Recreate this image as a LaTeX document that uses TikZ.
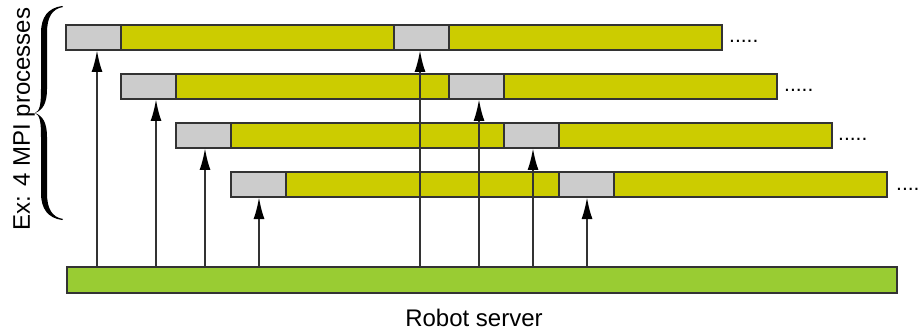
\documentclass[tikz,border=0pt]{standalone}
\usepackage{fontspec}
\setmainfont{Liberation Sans}
\usetikzlibrary{arrows.meta}
\definecolor{barY}{HTML}{CCCC00}
\definecolor{barG}{HTML}{CCCCCC}
\definecolor{baseG}{HTML}{99CC33}
\definecolor{edge}{HTML}{333333}
\begin{document}
\begin{tikzpicture}[x=1pt,y=-1pt,
  bar/.style={draw=edge,line width=2.6pt,inner sep=0pt,outer sep=0pt,anchor=north west,minimum height=25pt},
  ybar/.style={bar,fill=barY,minimum width=273pt},
  gbox/.style={bar,fill=barG,minimum width=55pt},
  arr/.style={draw=edge,line width=2.2pt,-{Latex[length=22pt,width=11pt,color=black]}},
  dotsl/.style={anchor=base west,inner sep=0pt,font=\fontsize{21}{22}\selectfont},
  lbl/.style={font=\fontsize{24}{28}\selectfont,inner sep=0pt},
  bracefill/.style={fill=black}]
\useasboundingbox (0,0) rectangle (920,331);
% base
\node[bar,fill=baseG,minimum width=830pt,minimum height=26pt] (base) at (67,267) {};
% rows
\foreach \r/\x/\y in {1/66/25,2/121/74,3/176/123,4/231/172}{
  \node[ybar] (ya\r) at (\x+55,\y) {};
  \node[ybar] (yb\r) at (\x+383,\y) {};
  \node[gbox] (ga\r) at (\x,\y) {};
  \node[gbox] (gb\r) at (\x+328,\y) {};
}
% dots
\node[dotsl] (d1) at (729,43) {.....};
\node[dotsl] (d2) at (784,92) {.....};
\node[dotsl] (d3) at (838,141) {.....};
\node[dotsl] (d4) at (896,190) {....};
% arrows
\foreach \n/\ax in {ga1/97,ga2/156,ga3/205,ga4/259,gb1/420,gb2/479,gb3/533,gb4/587}{
  \coordinate (c\n) at (\ax,0);
  \draw[arr] (base.north -| c\n) -- (\n.south -| c\n);
}
% labels
\node[lbl] (rs) at (474,318) {Robot server};
\node[lbl,rotate=90] (ex) at (24,119) {Ex: 4 MPI processes};
% brace
\foreach \s in {1,-1}{
  \begin{scope}[shift={(0,113)},yscale=\s]
    \fill[bracefill] (62,-107) .. controls (48,-105) and (41,-96) .. (41,-80)
      -- (41,-24) .. controls (41,-9) and (40,-2) .. (35,0)
      .. controls (43,-3) and (47,-10) .. (47,-24)
      -- (47,-80) .. controls (47,-96) and (52,-104) .. (63,-106) -- cycle;
  \end{scope}
}
\end{tikzpicture}
\end{document}
